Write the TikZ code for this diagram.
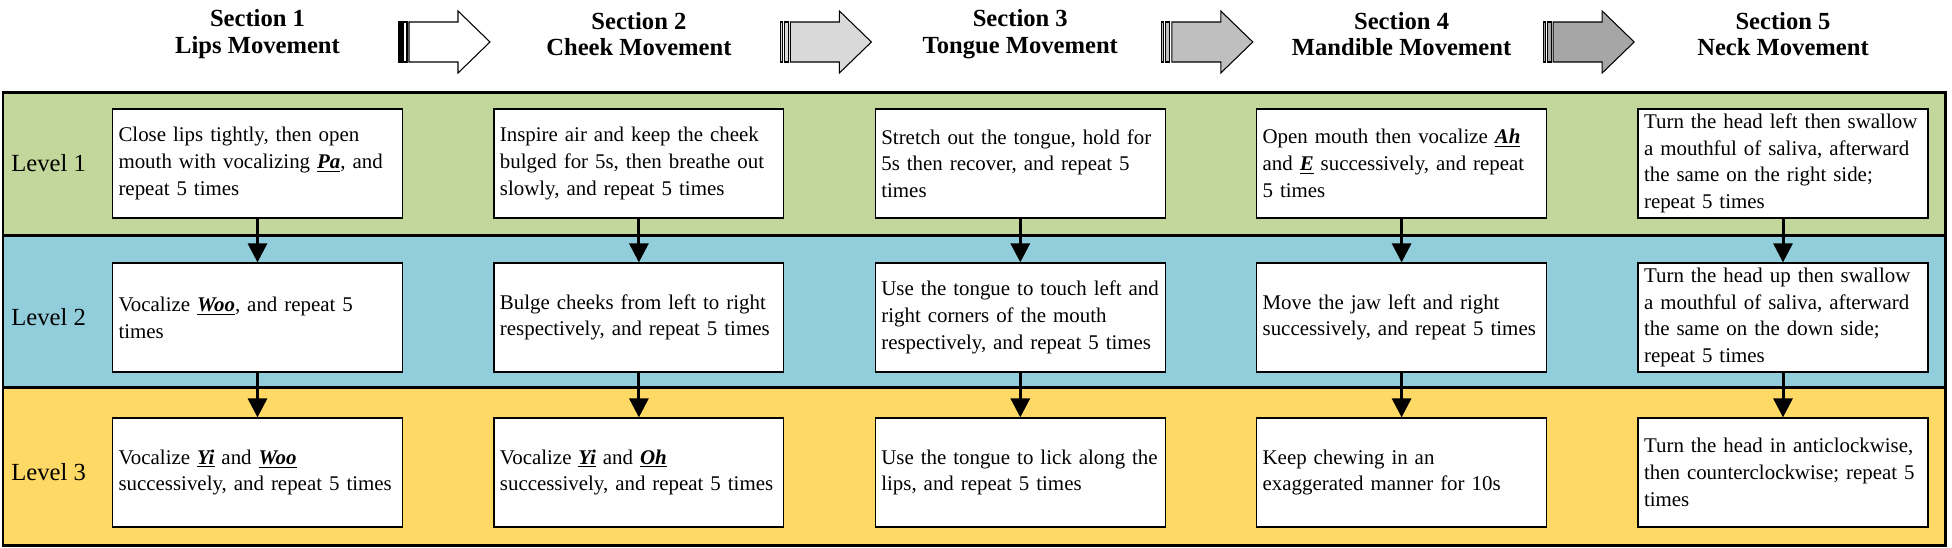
\documentclass[tikz,border=0pt]{standalone}
\usepackage{fontspec}
\setmainfont{Liberation Serif}
\usetikzlibrary{arrows.meta}

\definecolor{lvlgreen}{HTML}{C3D69B}
\definecolor{lvlblue}{HTML}{92CDDC}
\definecolor{lvlyellow}{HTML}{FFD966}
\newcommand{\vocal}[1]{\underline{\textbf{\textit{#1}}}}
\hyphenpenalty=10000
\exhyphenpenalty=10000

\begin{document}
\begin{tikzpicture}[
    x=0.02cm, y=-0.02cm,
    >={Triangle[width=0.38cm, length=0.38cm]},
    task/.style={draw, rectangle, fill=white, line width=0.7pt, text width=5.56cm, inner xsep=0.12cm, inner ysep=0.05cm, minimum height=2.18cm, align=left, font=\fontsize{11.9}{15.2}\selectfont},
    section/.style={align=center, font=\fontsize{14}{15.2}\selectfont\bfseries},
    level/.style={anchor=west, inner sep=0pt, font=\fontsize{14}{16}\selectfont},
    link/.style={->, line width=0.06cm},
    band/.style={line width=0.06cm},
    stripedarrow/.pic={
      \path[draw, line width=0.6pt, pic actions] (0,-20) rectangle (2,20);
      \path[draw, line width=0.6pt, pic actions] (4,-20) rectangle (8,20);
      \path[draw, line width=0.6pt, pic actions] (10,-20) -- (59,-20) -- (59,-31) -- (91,0) -- (59,31) -- (59,20) -- (10,20) -- cycle;
    }
]
  \useasboundingbox (0,0) rectangle (1952,548);

  % Level bands
  \fill[lvlgreen] (3,92) rectangle (1945,235);
  \fill[lvlblue] (3,235) rectangle (1945,387);
  \fill[lvlyellow] (3,387) rectangle (1945,545);
  \draw[band] (3,235) -- (1945,235);
  \draw[band] (3,387) -- (1945,387);
  \draw[band] (3,92) rectangle (1945,545);

  % Section headers
  \node[section] (sec1) at (257.5,34) {Section 1\\Lips Movement};
  \node[section] (sec2) at (638.9,34) {Section 2\\Cheek Movement};
  \node[section] (sec3) at (1020.3,34) {Section 3\\Tongue Movement};
  \node[section] (sec4) at (1401.6,34) {Section 4\\Mandible Movement};
  \node[section] (sec5) at (1783,34) {Section 5\\Neck Movement};

  \pic[fill=white] at (399,42) {stripedarrow};
  \pic[fill=black!15] at (780.4,42) {stripedarrow};
  \pic[fill=black!25] at (1161.8,42) {stripedarrow};
  \pic[fill=black!35] at (1543.2,42) {stripedarrow};

  % Level labels
  \node[level] (lv1) at (11,163.5) {Level 1};
  \node[level] (lv2) at (11,317.5) {Level 2};
  \node[level] (lv3) at (11,472.5) {Level 3};

  % Level 1
  \node[task] (a1) at (257.5,163.5) {Close lips tightly, then open\\mouth with vocalizing \vocal{Pa}, and\\repeat 5 times};
  \node[task] (a2) at (638.9,163.5) {Inspire air and keep the cheek\\bulged for 5s, then breathe out\\slowly, and repeat 5 times};
  \node[task] (a3) at (1020.3,163.5) {Stretch out the tongue, hold for\\5s then recover, and repeat 5\\times};
  \node[task] (a4) at (1401.6,163.5) {Open mouth then vocalize \vocal{Ah}\\and \vocal{E} successively, and repeat\\5 times};
  \node[task] (a5) at (1783,163.5) {Turn the head left then swallow\\a mouthful of saliva, afterward\\the same on the right side;\\repeat 5 times};

  % Level 2
  \node[task] (b1) at (257.5,317.5) {Vocalize \vocal{Woo}, and repeat 5\\times};
  \node[task] (b2) at (638.9,317.5) {Bulge cheeks from left to right\\respectively, and repeat 5 times};
  \node[task] (b3) at (1020.3,317.5) {Use the tongue to touch left and\\right corners of the mouth\\respectively, and repeat 5 times};
  \node[task] (b4) at (1401.6,317.5) {Move the jaw left and right\\successively, and repeat 5 times};
  \node[task] (b5) at (1783,317.5) {Turn the head up then swallow\\a mouthful of saliva, afterward\\the same on the down side;\\repeat 5 times};

  % Level 3
  \node[task] (c1) at (257.5,472.5) {Vocalize \vocal{Yi} and \vocal{Woo}\\successively, and repeat 5 times};
  \node[task] (c2) at (638.9,472.5) {Vocalize \vocal{Yi} and \vocal{Oh}\\successively, and repeat 5 times};
  \node[task] (c3) at (1020.3,472.5) {Use the tongue to lick along the\\lips, and repeat 5 times};
  \node[task] (c4) at (1401.6,472.5) {Keep chewing in an\\exaggerated manner for 10s};
  \node[task] (c5) at (1783,472.5) {Turn the head in anticlockwise,\\then counterclockwise; repeat 5\\times};

  % Progression arrows
  \draw[link] (a1) -- (b1);
  \draw[link] (a2) -- (b2);
  \draw[link] (a3) -- (b3);
  \draw[link] (a4) -- (b4);
  \draw[link] (a5) -- (b5);
  \draw[link] (b1) -- (c1);
  \draw[link] (b2) -- (c2);
  \draw[link] (b3) -- (c3);
  \draw[link] (b4) -- (c4);
  \draw[link] (b5) -- (c5);
\end{tikzpicture}
\end{document}
